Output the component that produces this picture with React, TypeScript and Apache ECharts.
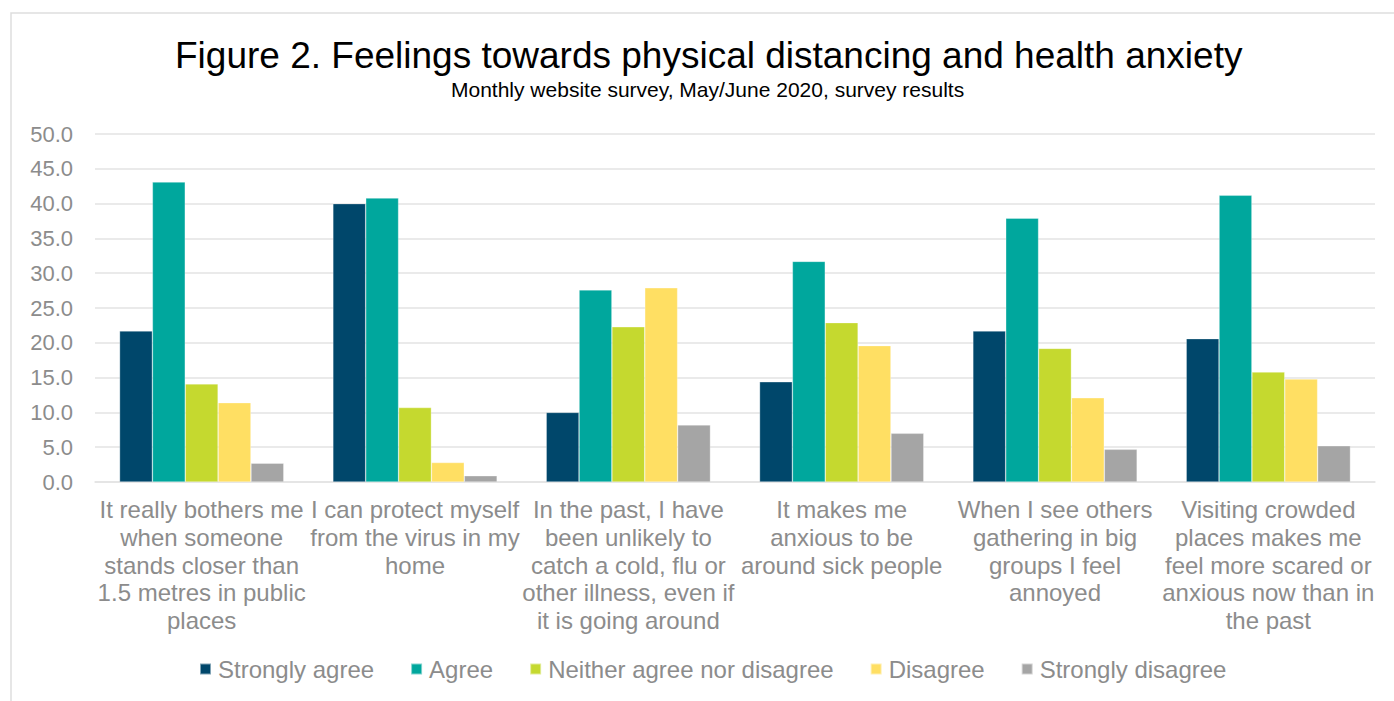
import React, { useEffect, useRef } from "react";
import * as echarts from "echarts";

const categories = [
  "It really bothers me\nwhen someone\nstands closer than\n1.5 metres in public\nplaces",
  "I can protect myself\nfrom the virus in my\nhome",
  "In the past, I have\nbeen unlikely to\ncatch a cold, flu or\nother illness, even if\nit is going around",
  "It makes me\nanxious to be\naround sick people",
  "When I see others\ngathering in big\ngroups I feel\nannoyed",
  "Visiting crowded\nplaces makes me\nfeel more scared or\nanxious now than in\nthe past",
];

const seriesNames = [
  "Strongly agree",
  "Agree",
  "Neither agree nor disagree",
  "Disagree",
  "Strongly disagree",
];

const stronglyAgree = [21.7, 40.0, 10.0, 14.4, 21.7, 20.6];
const agree = [43.1, 40.8, 27.6, 31.7, 37.9, 41.2];
const neither = [14.1, 10.7, 22.3, 22.9, 19.2, 15.8];
const disagree = [11.4, 2.8, 27.9, 19.6, 12.1, 14.8];
const stronglyDisagree = [2.7, 0.9, 8.2, 7.0, 4.7, 5.2];

const colors = ["#00476b", "#00a79d", "#c5d92f", "#ffdf63", "#a5a5a5"];

const FONT = "'Liberation Sans', Arial, sans-serif";
const GRAY = "#8c8c8c";

export default function App() {
  const ref = useRef<HTMLDivElement>(null);
  useEffect(() => {
    document.body.style.margin = "0";
    if (!ref.current) return;
    const chart = echarts.init(ref.current, null, { renderer: "svg" });
    const values = [stronglyAgree, agree, neither, disagree, stronglyDisagree];
    chart.setOption({
      animation: false,
      backgroundColor: "#ffffff",
      title: [
        {
          text: "Figure 2. Feelings towards physical distancing and health anxiety",
          left: 170,
          top: 32,
          textStyle: { fontFamily: FONT, fontSize: 37, fontWeight: "normal", color: "#000000" },
        },
        {
          text: "Monthly website survey, May/June 2020, survey results",
          left: 446,
          top: 74,
          textStyle: { fontFamily: FONT, fontSize: 21, fontWeight: "normal", color: "#000000" },
        },
      ],
      graphic: [
        {
          type: "rect",
          shape: { x: 11, y: 13, width: 1420, height: 720 },
          style: { fill: "none", stroke: "#dedede", lineWidth: 1.5 },
          silent: true,
        },
      ],
      legend: {
        data: seriesNames,
        left: 199,
        top: 657,
        padding: 0,
        icon: "rect",
        itemWidth: 11,
        itemHeight: 11,
        itemGap: 36,
        textStyle: { fontFamily: FONT, fontSize: 24, color: GRAY, padding: [0, 0, 0, 2] },
      },
      grid: { left: 95, right: 19, top: 134, bottom: 219, containLabel: false },
      xAxis: {
        type: "category",
        data: categories,
        axisTick: { show: false },
        axisLine: { lineStyle: { color: "#e3e3e3", width: 1.5 } },
        axisLabel: {
          interval: 0,
          fontFamily: FONT,
          fontSize: 24,
          lineHeight: 27.7,
          color: GRAY,
          margin: 14,
          align: "center",
        },
      },
      yAxis: {
        type: "value",
        min: 0,
        max: 50,
        interval: 5,
        axisLine: { show: false },
        axisTick: { show: false },
        splitLine: { lineStyle: { color: "#e3e3e3", width: 1.5 } },
        axisLabel: {
          fontFamily: FONT,
          fontSize: 22,
          color: GRAY,
          margin: 22,
          formatter: (v: number) => v.toFixed(1),
        },
      },
      series: seriesNames.map((name, i) => ({
        name,
        type: "bar",
        data: values[i],
        barGap: "0%",
        barCategoryGap: "23%",
        itemStyle: { color: colors[i], borderColor: "rgba(255,255,255,0.5)", borderWidth: 0.6 },
      })),
    });
    return () => chart.dispose();
  }, []);
  return <div ref={ref} style={{ width: 1394, height: 701 }} />;
}
